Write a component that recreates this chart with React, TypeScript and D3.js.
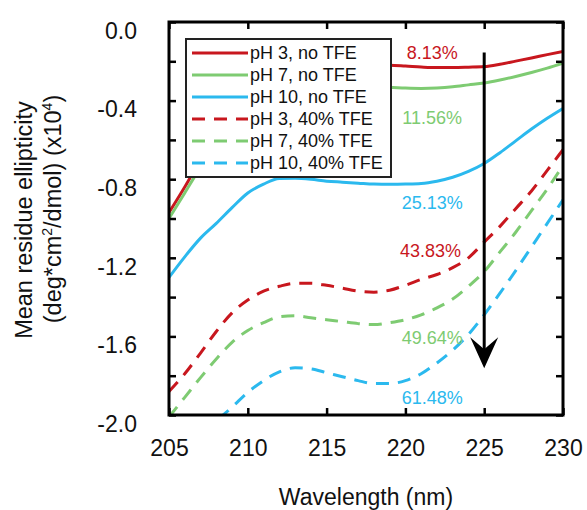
import * as React from 'react';
import { useEffect, useRef } from 'react';
import { select, scaleLinear, line, curveMonotoneX, axisBottom, axisLeft, axisTop, axisRight, range } from 'd3';

const wavelengths = range(205, 231);

const ph3NoTfe = [-0.97, -0.84, -0.7, -0.58, -0.47, -0.39, -0.33, -0.29, -0.265, -0.25, -0.24, -0.232, -0.226, -0.222, -0.22, -0.224, -0.229, -0.232, -0.232, -0.23, -0.227, -0.215, -0.199, -0.183, -0.166, -0.15];
const ph7NoTfe = [-1.0, -0.87, -0.74, -0.63, -0.54, -0.47, -0.42, -0.385, -0.36, -0.345, -0.335, -0.33, -0.33, -0.33, -0.332, -0.336, -0.338, -0.336, -0.33, -0.32, -0.31, -0.295, -0.277, -0.257, -0.235, -0.21];
const ph10NoTfe = [-1.3, -1.195, -1.1, -1.025, -0.945, -0.87, -0.825, -0.797, -0.795, -0.8, -0.81, -0.815, -0.82, -0.825, -0.826, -0.825, -0.822, -0.81, -0.79, -0.76, -0.72, -0.665, -0.605, -0.545, -0.49, -0.44];
const ph3Tfe = [-1.88, -1.79, -1.685, -1.575, -1.48, -1.415, -1.37, -1.345, -1.33, -1.33, -1.34, -1.355, -1.37, -1.375, -1.365, -1.34, -1.31, -1.285, -1.25, -1.2, -1.12, -1.04, -0.95, -0.86, -0.755, -0.65];
const ph7Tfe = [-2.01, -1.91, -1.81, -1.715, -1.63, -1.57, -1.53, -1.5, -1.495, -1.505, -1.515, -1.525, -1.535, -1.54, -1.53, -1.515, -1.49, -1.455, -1.41, -1.345, -1.27, -1.17, -1.07, -0.96, -0.85, -0.73];
const ph10Tfe = [-2.24, -2.17, -2.1, -2.03, -1.96, -1.885, -1.825, -1.78, -1.76, -1.765, -1.785, -1.805, -1.825, -1.84, -1.84, -1.825, -1.79, -1.735, -1.67, -1.59, -1.49, -1.38, -1.265, -1.145, -1.025, -0.905];

const seriesNames = ['pH 3, no TFE', 'pH 7, no TFE', 'pH 10, no TFE', 'pH 3, 40% TFE', 'pH 7, 40% TFE', 'pH 10, 40% TFE'];
const seriesValues = [ph3NoTfe, ph7NoTfe, ph10NoTfe, ph3Tfe, ph7Tfe, ph10Tfe];
const seriesColors = ['#c8171e', '#7ecb72', '#2bb9ee', '#c8171e', '#7ecb72', '#2bb9ee'];
const seriesDashed = [false, false, false, true, true, true];

// helicity labels: text, wavelength, value
const pctLabels = ['8.13%', '11.56%', '25.13%', '43.83%', '49.64%', '61.48%'];
const pctX = [221.7, 221.7, 221.7, 221.6, 221.7, 221.7];
const pctY = [-0.155, -0.485, -0.918, -1.162, -1.605, -1.91];

const xTicks = [205, 210, 215, 220, 225, 230];
const yTicks = [0, -0.2, -0.4, -0.6, -0.8, -1.0, -1.2, -1.4, -1.6, -1.8, -2.0];
const yTickLabels: Record<string, string> = { '0': '0.0', '-0.4': '-0.4', '-0.8': '-0.8', '-1.2': '-1.2', '-1.6': '-1.6', '-2': '-2.0' };

const arrowX = 225;
const arrowFrom = -0.155;
const arrowTo = -1.762;

const FONT = '"Liberation Sans", Arial, sans-serif';

export default function App() {
    const ref = useRef<SVGSVGElement>(null);

    useEffect(() => {
        const svg = select(ref.current);
        svg.selectAll('*').remove();

        const margin = { left: 169, top: 22, right: 24, bottom: 95 };
        const width = 587 - margin.left - margin.right;
        const height = 510 - margin.top - margin.bottom;

        const x = scaleLinear().domain([205, 230]).range([0, width]);
        const y = scaleLinear().domain([-2, 0]).range([height, 0]);

        const g = svg.append('g').attr('transform', `translate(${margin.left},${margin.top})`);

        g.append('clipPath').attr('id', 'plot-clip')
            .append('rect').attr('width', width).attr('height', height);

        const curves = g.append('g').attr('clip-path', 'url(#plot-clip)');
        seriesValues.forEach((vals, i) => {
            const pts = vals.map((v, j) => [wavelengths[j], v] as [number, number]);
            curves.append('path')
                .datum(pts)
                .attr('fill', 'none')
                .attr('stroke', seriesColors[i])
                .attr('stroke-width', 3)
                .attr('stroke-dasharray', seriesDashed[i] ? '13 9' : null)
                .attr('d', line<[number, number]>().x((d) => x(d[0])).y((d) => y(d[1])).curve(curveMonotoneX));
        });

        // percentage labels
        g.append('g').selectAll('text')
            .data(pctLabels)
            .enter().append('text')
            .attr('x', (d, i) => x(pctX[i]))
            .attr('y', (d, i) => y(pctY[i]))
            .attr('dy', '0.36em')
            .attr('text-anchor', 'middle')
            .attr('font-family', FONT)
            .attr('font-size', 18)
            .attr('fill', (d, i) => seriesColors[i])
            .text((d) => d);

        // arrow
        const ax = x(arrowX);
        const tipY = y(arrowTo);
        g.append('line')
            .attr('x1', ax).attr('x2', ax)
            .attr('y1', y(arrowFrom)).attr('y2', tipY - 18)
            .attr('stroke', '#000').attr('stroke-width', 3);
        g.append('path')
            .attr('d', `M${ax},${tipY} L${ax - 14},${tipY - 31} L${ax},${tipY - 19} L${ax + 14},${tipY - 31} Z`)
            .attr('fill', '#000');

        // axes
        const styleAxis = (sel: any) => {
            sel.select('.domain').remove();
            sel.selectAll('.tick line').attr('stroke', '#000').attr('stroke-width', 2.5);
            sel.selectAll('.tick text').attr('font-family', FONT).attr('font-size', 23).attr('fill', '#111');
        };

        g.append('g')
            .attr('transform', `translate(0,${height})`)
            .call(axisBottom(x).tickValues(xTicks).tickSize(-7).tickPadding(25).tickFormat((d: any) => String(d)))
            .call(styleAxis);
        g.append('g')
            .call(axisTop(x).tickValues(xTicks).tickSize(-7).tickFormat(() => ''))
            .call(styleAxis);
        g.append('g')
            .call(axisLeft(y).tickValues(yTicks).tickSize(-7).tickPadding(32)
                .tickFormat((d: any) => yTickLabels[String(+(+d).toFixed(1))] || ''))
            .call(styleAxis);
        g.selectAll('.tick text').attr('dy', null);
        g.append('g')
            .attr('transform', `translate(${width},0)`)
            .call(axisRight(y).tickValues(yTicks).tickSize(-7).tickFormat(() => ''))
            .call(styleAxis);

        // fix label baselines
        g.selectAll('.tick text').each(function () {
            const t = select(this as SVGTextElement);
            if (t.attr('text-anchor') === 'end') t.attr('dy', '0.36em');
            else t.attr('dy', '0.71em');
        });

        g.append('rect')
            .attr('width', width).attr('height', height)
            .attr('fill', 'none').attr('stroke', '#000').attr('stroke-width', 3);

        // legend
        const legend = g.append('g').attr('transform', `translate(${186 - margin.left},${39 - margin.top})`);
        legend.append('rect')
            .attr('width', 205).attr('height', 138)
            .attr('fill', '#fff').attr('stroke', '#222').attr('stroke-width', 2);
        const rows = legend.selectAll('g.row').data(seriesNames).enter().append('g')
            .attr('class', 'row')
            .attr('transform', (d, i) => `translate(0,${14 + i * 22})`);
        rows.append('line')
            .attr('x1', 6).attr('x2', 62)
            .attr('stroke', (d, i) => seriesColors[i])
            .attr('stroke-width', 3)
            .attr('stroke-dasharray', (d, i) => (seriesDashed[i] ? '13 9' : null));
        rows.append('text')
            .attr('x', 64).attr('dy', '0.36em')
            .attr('font-family', FONT).attr('font-size', 18).attr('fill', '#111')
            .text((d) => d);

        // axis titles
        svg.append('text')
            .attr('x', margin.left + width / 2).attr('y', 505)
            .attr('text-anchor', 'middle')
            .attr('font-family', FONT).attr('font-size', 23).attr('fill', '#111')
            .text('Wavelength (nm)');

        svg.append('text')
            .attr('transform', 'translate(32,220) rotate(-90)')
            .attr('text-anchor', 'middle')
            .attr('font-family', FONT).attr('font-size', 23.5).attr('fill', '#111')
            .text('Mean residue ellipticity');

        const t2 = svg.append('text')
            .attr('transform', 'translate(61,209) rotate(-90)')
            .attr('text-anchor', 'middle')
            .attr('font-family', FONT).attr('font-size', 23.5).attr('fill', '#111');
        t2.append('tspan').text('(deg*cm');
        t2.append('tspan').attr('font-size', 14).attr('dy', -9).text('2');
        t2.append('tspan').attr('dy', 9).text('/dmol) (x10');
        t2.append('tspan').attr('font-size', 14).attr('dy', -9).text('4');
        t2.append('tspan').attr('dy', 9).text(')');
    }, []);

    return (
        <svg ref={ref} width={587} height={510} style={{ position: 'absolute', left: 0, top: 0, background: '#fff' }} />
    );
}
